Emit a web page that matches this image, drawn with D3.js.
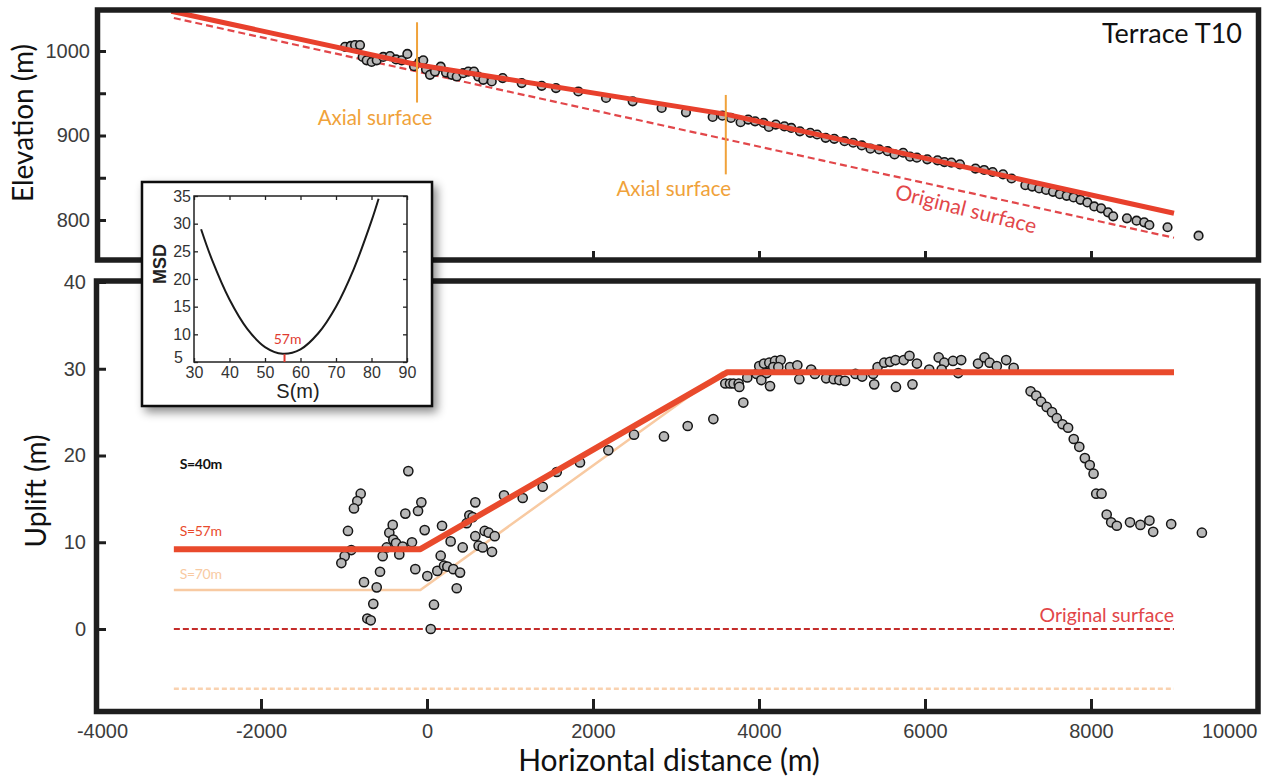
<!DOCTYPE html>
<html>
<head>
<meta charset="utf-8">
<script src="https://cdn.jsdelivr.net/npm/d3@7"></script>
<style>
	body { margin: 0; background: #fff; }
	svg { display: block; }
</style>
</head>
<body>
<svg width="1268" height="782"></svg>
<script>

// Terrace T10 : elevation profile (top) and uplift profile (bottom)
const elevPoints = [
	[ -988, 1005 ], [ -919, 1006 ], [ -867, 1007 ], [ -807, 1007 ], [ -775, 993 ], [ -727, 989 ], [ -667, 987 ],
	[ -606, 989 ], [ -527, 993 ], [ -446, 994 ], [ -373, 990 ], [ -305, 989 ], [ -237, 996.5 ], [ -157, 982 ],
	[ -93, 987 ], [ -45, 989 ], [ -12, 978.5 ], [ 36, 971.8 ], [ 96, 975.6 ], [ 165, 981.5 ], [ 229, 974.5 ],
	[ 298, 971.8 ], [ 358, 969.8 ], [ 437, 973.8 ], [ 497, 975.6 ], [ 566, 975.6 ], [ 618, 969.8 ], [ 678, 965.9 ],
	[ 780, 963.9 ], [ 912, 967.9 ], [ 1141, 962 ], [ 1382, 958.8 ], [ 1554, 956.1 ], [ 1823, 952.1 ], [ 2157, 944.4 ],
	[ 2478, 940.4 ], [ 2827, 932.6 ], [ 3120, 927.4 ], [ 3442, 922 ], [ 3559, 923.5 ], [ 3662, 920.8 ], [ 3778, 915.7 ],
	[ 3870, 918.8 ], [ 3953, 916.8 ], [ 4056, 914.9 ], [ 4119, 910.2 ], [ 4202, 912.9 ], [ 4306, 910.9 ], [ 4389, 909 ],
	[ 4493, 905 ], [ 4617, 903.2 ], [ 4700, 901.2 ], [ 4803, 897.3 ], [ 4907, 896.1 ], [ 5031, 893.3 ], [ 5135, 891.4 ],
	[ 5238, 888.2 ], [ 5343, 884.4 ], [ 5447, 883.5 ], [ 5550, 881.5 ], [ 5633, 877.6 ], [ 5737, 879.6 ], [ 5820, 874.9 ],
	[ 5902, 873.8 ], [ 6027, 871.8 ], [ 6151, 870.6 ], [ 6234, 868.6 ], [ 6318, 867.9 ], [ 6421, 865.9 ], [ 6608, 860.8 ],
	[ 6712, 859.2 ], [ 6815, 856.8 ], [ 6940, 854.1 ], [ 7043, 849.1 ], [ 7209, 841.2 ], [ 7292, 839.6 ], [ 7376, 837.3 ],
	[ 7459, 835.6 ], [ 7542, 833.3 ], [ 7624, 830.6 ], [ 7707, 828.6 ], [ 7790, 826.7 ], [ 7873, 823.9 ], [ 7956, 820.8 ],
	[ 8039, 816.1 ], [ 8122, 813.8 ], [ 8205, 809.1 ], [ 8267, 804.4 ], [ 8433, 802 ], [ 8549, 799.2 ], [ 8641, 797.3 ],
	[ 8703, 794.1 ], [ 8922, 791.4 ], [ 9296, 781.5 ]
]

const upliftPoints = [
	[ -225, 18.2 ], [ -799, 15.6 ], [ -840, 14.75 ], [ -880, 13.9 ], [ -952, 11.3 ], [ -912, 9.1 ], [ -992, 8.4 ],
	[ -1032, 7.6 ], [ -759, 5.4 ], [ -606, 4.8 ], [ -647, 2.9 ], [ -719, 1.2 ], [ -678, 1 ], [ -566, 6.6 ], [ -534, 8.4 ],
	[ -454, 11.1 ], [ -413, 12 ], [ -406, 10.3 ], [ -373, 9.9 ], [ -334, 8.6 ], [ -293, 9.5 ], [ -486, 9.4 ], [ -261, 13.3 ],
	[ -181, 10 ], [ -141, 6.9 ], [ -108, 13.6 ], [ -68, 14.6 ], [ -28, 11.4 ], [ 4, 6.1 ], [ 84, 2.8 ], [ 45, 0 ],
	[ 124, 6.7 ], [ 165, 8.45 ], [ 181, 11.9 ], [ 205, 7.3 ], [ 245, 7.2 ], [ 285, 10.1 ], [ 317, 6.9 ], [ 358, 4.7 ],
	[ 398, 6.5 ], [ 430, 9.4 ], [ 478, 12.2 ], [ 510, 13.1 ], [ 550, 12.9 ], [ 582, 14.6 ], [ 582, 10.7 ], [ 622, 9.6 ],
	[ 671, 9.4 ], [ 695, 11.3 ], [ 743, 11.1 ], [ 816, 10.7 ], [ 783, 8.9 ], [ 928, 15.4 ], [ 1153, 15.1 ], [ 1394, 16.4 ],
	[ 1563, 18.1 ], [ 1843, 19.2 ], [ 2185, 20.6 ], [ 2494, 22.4 ], [ 2855, 22.2 ], [ 3141, 23.4 ], [ 3450, 24.2 ],
	[ 3811, 26.1 ], [ 3594, 28.3 ], [ 3651, 28.3 ], [ 3693, 28.3 ], [ 3755, 28.3 ], [ 3763, 27.9 ], [ 3859, 29 ],
	[ 3972, 29.4 ], [ 4028, 28.7 ], [ 4133, 28 ], [ 4003, 30.3 ], [ 4060, 30.6 ], [ 4124, 30.7 ], [ 4193, 30.9 ],
	[ 4261, 31 ], [ 4172, 30.2 ], [ 4233, 30.2 ], [ 4373, 30.2 ], [ 4462, 30.4 ], [ 4486, 28.8 ], [ 4092, 29.5 ],
	[ 4628, 29.9 ], [ 4674, 29.4 ], [ 4809, 28.9 ], [ 4900, 28.8 ], [ 4968, 28.7 ], [ 5036, 28.6 ], [ 5162, 29.4 ],
	[ 5243, 29.1 ], [ 5388, 28.2 ], [ 5375, 29.4 ], [ 5429, 30.2 ], [ 5509, 30.7 ], [ 5578, 30.8 ], [ 5645, 31 ],
	[ 5744, 31 ], [ 5813, 31.5 ], [ 5903, 30.6 ], [ 5650, 27.9 ], [ 5849, 28.2 ], [ 6051, 29.9 ], [ 6165, 31.3 ],
	[ 6232, 30.7 ], [ 6337, 30.9 ], [ 6436, 31 ], [ 6201, 29.9 ], [ 6400, 29.5 ], [ 6639, 30.6 ], [ 6717, 31.3 ],
	[ 6779, 30.7 ], [ 6865, 30.3 ], [ 6978, 31 ], [ 7068, 30.1 ], [ 7272, 27.4 ], [ 7340, 26.9 ], [ 7399, 26.2 ],
	[ 7466, 25.6 ], [ 7530, 25 ], [ 7588, 24.3 ], [ 7657, 23.6 ], [ 7724, 23.2 ], [ 7792, 21.9 ], [ 7859, 21 ],
	[ 7926, 19.7 ], [ 7985, 18.9 ], [ 8031, 17.9 ], [ 8063, 15.6 ], [ 8127, 15.6 ], [ 8189, 13.2 ], [ 8243, 12.3 ],
	[ 8311, 11.9 ], [ 8470, 12.3 ], [ 8595, 12 ], [ 8704, 12.5 ], [ 8749, 11.2 ], [ 8966, 12.1 ], [ 9336, 11.1 ]
]

// model lines
const fitElev = [ [ -3080, 1047 ], [ -100, 983.5 ], [ 3610, 925 ], [ 9000, 808 ] ]
const origElev = [ [ -3050, 1039 ], [ 9000, 779 ] ]
const fit57 = [ [ -3050, 9.2 ], [ -80, 9.2 ], [ 3620, 29.6 ], [ 9000, 29.6 ] ]
const fit70 = [ [ -3050, 4.5 ], [ -80, 4.5 ], [ 3560, 29.6 ], [ 9000, 29.6 ] ]
const origUplift = [ [ -3050, 0 ], [ 9000, 0 ] ]
const lowerUplift = [ [ -3050, -6.9 ], [ 9000, -6.9 ] ]
const axialX = [ -120, 3600 ]
const axialRange = [ [ 1034, 939 ], [ 948, 854 ] ]

// misfit curve of the inset
const msdS = [ 32, 35, 40, 45, 50, 55, 60, 65, 70, 75, 80, 82 ]
const msdVal = [ 29, 23.6, 16.3, 11, 7.7, 6.5, 7.3, 10.2, 15, 21.8, 30.5, 34.5 ]
const bestS = 55.5

const xTicks = [ -4000, -2000, 0, 2000, 4000, 6000, 8000, 10000 ]
const elevTicks = [ 800, 850, 900, 950, 1000 ]
const elevLabels = [ 800, 900, 1000 ]
const upliftTicks = [ 0, 10, 20, 30, 40 ]
const msdXTicks = [ 30, 40, 50, 60, 70, 80, 90 ]
const msdYTicks = [ 5, 10, 15, 20, 25, 30, 35 ]

const svg = d3.select( 'svg' ),
	myriad = 'Lato, "Open Sans", sans-serif',
	arial = '"Liberation Sans", Arial, sans-serif',
	red = '#e8402c',
	orange = '#f0a23a',
	peach = '#f8caa2',
	plain = d => String( d ),

	x = d3.scaleLinear().domain( [ -4000, 10000 ] ).range( [ 95, 1257 ] ),
	yTop = d3.scaleLinear().domain( [ 800, 1000 ] ).range( [ 220, 51 ] ),
	yBot = d3.scaleLinear().domain( [ 0, 40 ] ).range( [ 629, 282 ] ),

	lineTop = d3.line().x( d => x( d[ 0 ] ) ).y( d => yTop( d[ 1 ] ) ),
	lineBot = d3.line().x( d => x( d[ 0 ] ) ).y( d => yBot( d[ 1 ] ) )

const defs = svg.append( 'defs' )
defs.append( 'filter' ).attr( 'id', 'shadow' )
	.attr( 'x', '-20%' ).attr( 'y', '-20%' ).attr( 'width', '150%' ).attr( 'height', '150%' )
	.append( 'feDropShadow' )
	.attr( 'dx', 4 ).attr( 'dy', 5 ).attr( 'stdDeviation', 5 )
	.attr( 'flood-color', '#000' ).attr( 'flood-opacity', 0.45 )

function styleAxis( g, size ) {

	g.select( '.domain' ).remove()
	g.selectAll( '.tick line' ).attr( 'stroke', '#1e1e1e' ).attr( 'stroke-width', 3 )
	g.selectAll( '.tick text' ).attr( 'fill', '#3c3c3c' ).attr( 'font-family', arial ).attr( 'font-size', size )

}

// ---------- top panel ----------
const topPanel = svg.append( 'g' )

topPanel.append( 'g' )
	.attr( 'transform', 'translate(95,0)' )
	.call( d3.axisLeft( yTop ).tickValues( elevTicks ).tickSizeInner( -11 ).tickSizeOuter( 0 ).tickPadding( 5 )
		.tickFormat( d => elevLabels.includes( d ) ? d : '' ) )
	.call( g => styleAxis( g, 20 ) )

topPanel.append( 'g' )
	.attr( 'transform', 'translate(0,260)' )
	.call( d3.axisBottom( x ).tickValues( xTicks.slice( 1, -1 ) ).tickSizeInner( -9 ).tickSizeOuter( 0 ).tickFormat( '' ) )
	.call( g => styleAxis( g, 20 ) )

topPanel.append( 'path' ).datum( origElev )
	.attr( 'd', lineTop ).attr( 'fill', 'none' )
	.attr( 'stroke', '#e2474a' ).attr( 'stroke-width', 2.2 ).attr( 'stroke-dasharray', '7,4' )

topPanel.append( 'g' ).selectAll( 'circle' )
	.data( elevPoints ).enter().append( 'circle' )
	.attr( 'cx', d => x( d[ 0 ] ) ).attr( 'cy', d => yTop( d[ 1 ] ) ).attr( 'r', 4.3 )
	.attr( 'fill', '#b8b8b8' ).attr( 'stroke', '#151515' ).attr( 'stroke-width', 1.6 )

topPanel.append( 'path' ).datum( fitElev )
	.attr( 'd', lineTop ).attr( 'fill', 'none' )
	.attr( 'stroke', red ).attr( 'stroke-width', 5 ).attr( 'stroke-linejoin', 'round' )

topPanel.append( 'g' ).selectAll( 'line' )
	.data( axialX ).enter().append( 'line' )
	.attr( 'x1', d => x( d ) ).attr( 'x2', d => x( d ) )
	.attr( 'y1', ( d, i ) => yTop( axialRange[ i ][ 0 ] ) ).attr( 'y2', ( d, i ) => yTop( axialRange[ i ][ 1 ] ) )
	.attr( 'stroke', orange ).attr( 'stroke-width', 2 )

topPanel.append( 'g' ).selectAll( 'text' )
	.data( axialX ).enter().append( 'text' )
	.attr( 'x', ( d, i ) => x( d ) - ( i ? 52 : 42 ) )
	.attr( 'y', ( d, i ) => yTop( axialRange[ i ][ 1 ] ) + 22 )
	.attr( 'text-anchor', 'middle' ).attr( 'fill', orange )
	.attr( 'font-family', myriad ).attr( 'font-size', 20.5 )
	.text( 'Axial surface' )

topPanel.append( 'text' )
	.attr( 'transform', `translate(966,209) rotate(14)` )
	.attr( 'text-anchor', 'middle' ).attr( 'dy', '0.35em' )
	.attr( 'fill', '#e2474a' ).attr( 'font-family', myriad ).attr( 'font-size', 21 )
	.text( 'Original surface' )

topPanel.append( 'text' )
	.attr( 'x', 1242 ).attr( 'y', 43 ).attr( 'text-anchor', 'end' )
	.attr( 'fill', '#111' ).attr( 'font-family', myriad ).attr( 'font-size', 27 )
	.text( 'Terrace T10' )

topPanel.append( 'rect' )
	.attr( 'x', 97.5 ).attr( 'y', 10 ).attr( 'width', 1161 ).attr( 'height', 250 )
	.attr( 'fill', 'none' ).attr( 'stroke', '#1e1e1e' ).attr( 'stroke-width', 5.5 )

topPanel.append( 'text' )
	.attr( 'transform', 'translate(33,123) rotate(-90)' )
	.attr( 'text-anchor', 'middle' ).attr( 'fill', '#111' )
	.attr( 'font-family', myriad ).attr( 'font-size', 28 )
	.text( 'Elevation (m)' )

// ---------- bottom panel ----------
const botPanel = svg.append( 'g' )

botPanel.append( 'g' )
	.attr( 'transform', 'translate(95,0)' )
	.call( d3.axisLeft( yBot ).tickValues( upliftTicks ).tickSizeInner( -11 ).tickSizeOuter( 0 ).tickPadding( 9 ).tickFormat( plain ) )
	.call( g => styleAxis( g, 20 ) )

const xAxis = botPanel.append( 'g' )
	.attr( 'transform', 'translate(0,712)' )
	.call( d3.axisBottom( x ).tickValues( xTicks ).tickSizeInner( -13 ).tickSizeOuter( 0 ).tickPadding( 12 ).tickFormat( plain ) )
	.call( g => styleAxis( g, 20 ) )

xAxis.selectAll( '.tick text' )
	.filter( d => d === xTicks[ 0 ] ).attr( 'dx', 7 )
xAxis.selectAll( '.tick text' )
	.filter( d => d === xTicks[ xTicks.length - 1 ] ).attr( 'text-anchor', 'end' )

botPanel.append( 'path' ).datum( lowerUplift )
	.attr( 'd', lineBot ).attr( 'fill', 'none' )
	.attr( 'stroke', '#f9d2b0' ).attr( 'stroke-width', 2.5 ).attr( 'stroke-dasharray', '5,3' )

botPanel.append( 'path' ).datum( origUplift )
	.attr( 'd', lineBot ).attr( 'fill', 'none' )
	.attr( 'stroke', '#c42c2a' ).attr( 'stroke-width', 2 ).attr( 'stroke-dasharray', '6,3' )

botPanel.append( 'path' ).datum( fit70 )
	.attr( 'd', lineBot ).attr( 'fill', 'none' )
	.attr( 'stroke', peach ).attr( 'stroke-width', 2.5 )

botPanel.append( 'g' ).selectAll( 'circle' )
	.data( upliftPoints ).enter().append( 'circle' )
	.attr( 'cx', d => x( d[ 0 ] ) ).attr( 'cy', d => yBot( d[ 1 ] ) ).attr( 'r', 4.6 )
	.attr( 'fill', '#b8b8b8' ).attr( 'stroke', '#151515' ).attr( 'stroke-width', 1.5 )

botPanel.append( 'path' ).datum( fit57 )
	.attr( 'd', lineBot ).attr( 'fill', 'none' )
	.attr( 'stroke', '#e94a2c' ).attr( 'stroke-width', 6 ).attr( 'stroke-linejoin', 'round' )

botPanel.append( 'text' )
	.attr( 'x', x( 9000 ) ).attr( 'y', yBot( 0 ) - 7 ).attr( 'text-anchor', 'end' )
	.attr( 'fill', '#e2474a' ).attr( 'font-family', myriad ).attr( 'font-size', 19.5 )
	.text( 'Original surface' )

const sLabels = [ [ 'S=40m', 18.5, '#111', 'bold' ], [ 'S=57m', 10.7, '#e94a2c', 'normal' ], [ 'S=70m', 5.8, peach, 'normal' ] ]
botPanel.append( 'g' ).selectAll( 'text' )
	.data( sLabels ).enter().append( 'text' )
	.attr( 'x', x( -2980 ) ).attr( 'y', d => yBot( d[ 1 ] ) )
	.attr( 'fill', d => d[ 2 ] ).attr( 'font-weight', d => d[ 3 ] )
	.attr( 'font-family', myriad ).attr( 'font-size', 14 ).attr( 'letter-spacing', -0.3 )
	.text( d => d[ 0 ] )

botPanel.append( 'rect' )
	.attr( 'x', 96.5 ).attr( 'y', 281 ).attr( 'width', 1161.5 ).attr( 'height', 430.5 )
	.attr( 'fill', 'none' ).attr( 'stroke', '#1e1e1e' ).attr( 'stroke-width', 5.5 )

botPanel.append( 'text' )
	.attr( 'transform', 'translate(46,491) rotate(-90)' )
	.attr( 'text-anchor', 'middle' ).attr( 'fill', '#111' )
	.attr( 'font-family', myriad ).attr( 'font-size', 28 )
	.text( 'Uplift (m)' )

svg.append( 'text' )
	.attr( 'x', 669 ).attr( 'y', 771 ).attr( 'text-anchor', 'middle' ).attr( 'fill', '#111' )
	.attr( 'font-family', myriad ).attr( 'font-size', 30 )
	.text( 'Horizontal distance (m)' )

// ---------- inset ----------
const inset = svg.append( 'g' ),
	sx = d3.scaleLinear().domain( [ 30, 90 ] ).range( [ 194, 407 ] ),
	sy = d3.scaleLinear().domain( [ 5, 35 ] ).range( [ 362, 196 ] )

inset.append( 'rect' )
	.attr( 'x', 142 ).attr( 'y', 182 ).attr( 'width', 290 ).attr( 'height', 224 )
	.attr( 'fill', '#fff' ).attr( 'stroke', '#111' ).attr( 'stroke-width', 2.5 )
	.attr( 'filter', 'url(#shadow)' )

function styleInset( g ) {

	g.select( '.domain' ).remove()
	g.selectAll( '.tick line' ).attr( 'stroke', '#222' ).attr( 'stroke-width', 1.3 )
	g.selectAll( '.tick text' ).attr( 'fill', '#333' ).attr( 'font-family', arial ).attr( 'font-size', 16 )

}

const sLeft = inset.append( 'g' ).attr( 'transform', 'translate(194,0)' )
	.call( d3.axisLeft( sy ).tickValues( msdYTicks ).tickSizeInner( -4 ).tickSizeOuter( 0 ).tickPadding( 3 ) )
	.call( styleInset )
sLeft.selectAll( '.tick text' ).filter( d => d === 5 ).attr( 'dx', -8 ).attr( 'dy', '0.05em' )

inset.append( 'g' ).attr( 'transform', 'translate(0,362)' )
	.call( d3.axisBottom( sx ).tickValues( msdXTicks ).tickSizeInner( -4 ).tickSizeOuter( 0 ).tickPadding( 5 ) )
	.call( styleInset )

inset.append( 'g' ).attr( 'transform', 'translate(407,0)' )
	.call( d3.axisRight( sy ).tickValues( msdYTicks ).tickSizeInner( -4 ).tickSizeOuter( 0 ).tickFormat( '' ) )
	.call( styleInset )

inset.append( 'g' ).attr( 'transform', 'translate(0,196)' )
	.call( d3.axisTop( sx ).tickValues( msdXTicks ).tickSizeInner( -4 ).tickSizeOuter( 0 ).tickFormat( '' ) )
	.call( styleInset )

inset.append( 'rect' )
	.attr( 'x', 194 ).attr( 'y', 196 ).attr( 'width', 213 ).attr( 'height', 166 )
	.attr( 'fill', 'none' ).attr( 'stroke', '#222' ).attr( 'stroke-width', 1.5 )

inset.append( 'path' ).datum( msdS.map( ( s, i ) => [ s, msdVal[ i ] ] ) )
	.attr( 'd', d3.line().x( d => sx( d[ 0 ] ) ).y( d => sy( d[ 1 ] ) ).curve( d3.curveCatmullRom ) )
	.attr( 'fill', 'none' ).attr( 'stroke', '#1a1a1a' ).attr( 'stroke-width', 2 )

inset.append( 'line' )
	.attr( 'x1', sx( bestS ) ).attr( 'x2', sx( bestS ) ).attr( 'y1', sy( 5 ) ).attr( 'y2', sy( 6.4 ) )
	.attr( 'stroke', '#e03a30' ).attr( 'stroke-width', 2 )

inset.append( 'text' )
	.attr( 'x', sx( bestS ) + 3 ).attr( 'y', sy( 8.3 ) ).attr( 'text-anchor', 'middle' )
	.attr( 'fill', '#e03a30' ).attr( 'font-family', myriad ).attr( 'font-size', 14 )
	.text( '57m' )

inset.append( 'text' )
	.attr( 'x', 298 ).attr( 'y', 398 ).attr( 'text-anchor', 'middle' ).attr( 'fill', '#222' )
	.attr( 'font-family', arial ).attr( 'font-size', 20 )
	.text( 'S(m)' )

inset.append( 'text' )
	.attr( 'transform', 'translate(166,264) rotate(-90)' )
	.attr( 'text-anchor', 'middle' ).attr( 'fill', '#222' ).attr( 'font-weight', 'bold' )
	.attr( 'font-family', arial ).attr( 'font-size', 18 )
	.text( 'MSD' )

</script>
</body>
</html>
